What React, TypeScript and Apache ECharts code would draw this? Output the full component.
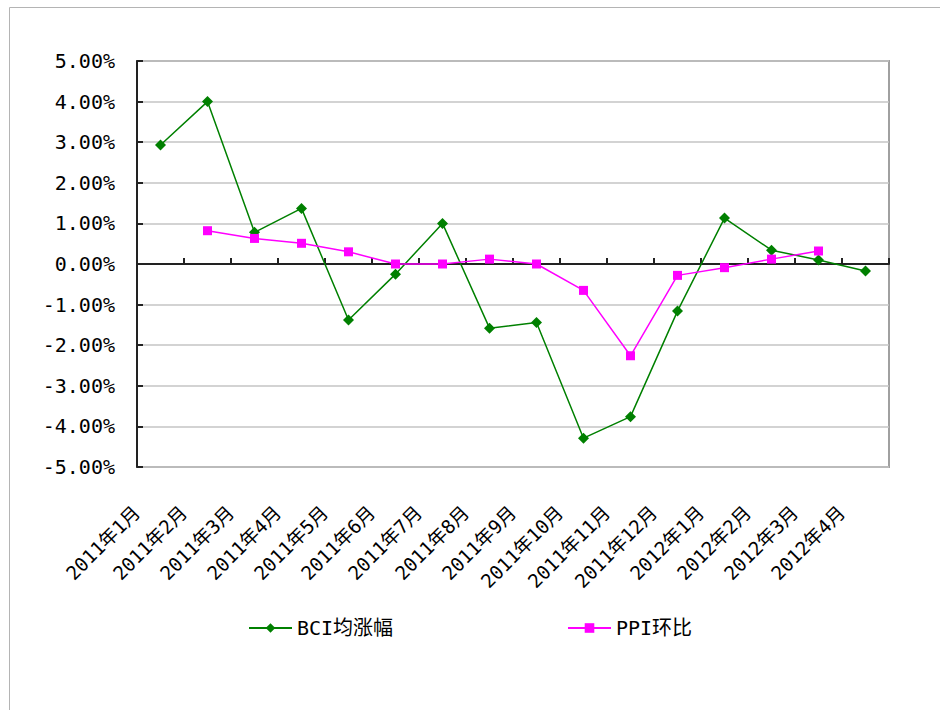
import React, { useEffect, useRef } from "react";
import * as echarts from "echarts";

const categories = [
  "2011年1月", "2011年2月", "2011年3月", "2011年4月", "2011年5月", "2011年6月",
  "2011年7月", "2011年8月", "2011年9月", "2011年10月", "2011年11月", "2011年12月",
  "2012年1月", "2012年2月", "2012年3月", "2012年4月",
];
const bciValues = [2.93, 4.0, 0.78, 1.37, -1.38, -0.25, 1.0, -1.58, -1.44, -4.29, -3.76, -1.16, 1.13, 0.34, 0.1, -0.17];
const ppiValues = [null, 0.82, 0.63, 0.51, 0.3, 0.0, 0.0, 0.12, 0.0, -0.65, -2.26, -0.28, -0.09, 0.12, 0.32, null];
const seriesNames = ["BCI均涨幅", "PPI环比"];
const yMin = -5;
const yMax = 5;
const yInterval = 1;

const FONT = "'DejaVu Sans Mono', 'Noto Sans CJK SC', monospace";

export default function App() {
  const ref = useRef<HTMLDivElement>(null);
  useEffect(() => {
    if (!ref.current) return;
    const chart = echarts.init(ref.current, null, { renderer: "svg" });
    const legendBase = {
      top: 617,
      padding: 0,
      itemWidth: 43,
      itemHeight: 12,
      itemGap: 0,
      textStyle: { fontFamily: FONT, fontSize: 20, color: "#000", lineHeight: 22 },
    };
    chart.setOption({
      animation: false,
      backgroundColor: "#ffffff",
      graphic: [
        {
          type: "rect",
          shape: { x: 9.5, y: 7.5, width: 1000, height: 1000 },
          style: { fill: "none", stroke: "#b4b4b4", lineWidth: 1 },
          silent: true,
        },
      ],
      grid: {
        left: 137,
        right: 51,
        top: 61,
        bottom: 243,
        show: true,
        borderColor: "#a0a0a0",
        borderWidth: 2,
        containLabel: false,
      },
      legend: [
        { ...legendBase, data: [seriesNames[0]], left: 248 },
        { ...legendBase, data: [seriesNames[1]], left: 567 },
      ],
      xAxis: [
        {
          type: "category",
          data: categories,
          position: "bottom",
          boundaryGap: true,
          axisLine: { show: true, onZero: true, lineStyle: { color: "#222", width: 2 } },
          axisTick: { show: true, inside: true, length: 6, interval: 0, lineStyle: { color: "#222", width: 2 } },
          axisLabel: { show: false },
          splitLine: { show: false },
        },
        {
          type: "category",
          data: categories,
          position: "bottom",
          boundaryGap: true,
          axisLine: { show: false, onZero: false },
          axisTick: { show: false },
          axisLabel: {
            show: true,
            interval: 0,
            rotate: 45,
            margin: 18,
            padding: [0, 34, 0, 0],
            fontFamily: FONT,
            fontSize: 19,
            color: "#000",
          },
          splitLine: { show: false },
        },
      ],
      yAxis: {
        type: "value",
        min: yMin,
        max: yMax,
        interval: yInterval,
        axisLine: { show: true, lineStyle: { color: "#222", width: 2 } },
        axisTick: { show: true, inside: true, length: 6, lineStyle: { color: "#222", width: 2 } },
        axisLabel: {
          margin: 22,
          fontFamily: FONT,
          fontSize: 20,
          color: "#000",
          formatter: (v: number) => v.toFixed(2) + "%",
        },
        splitLine: { show: true, lineStyle: { color: "#c4c4c4", width: 1.5 } },
      },
      series: [
        {
          name: seriesNames[0],
          type: "line",
          xAxisIndex: 0,
          data: bciValues,
          symbol: "diamond",
          symbolSize: 11,
          itemStyle: { color: "#008000" },
          lineStyle: { color: "#008000", width: 1.5 },
        },
        {
          name: seriesNames[1],
          type: "line",
          xAxisIndex: 0,
          data: ppiValues,
          symbol: "rect",
          symbolSize: 9,
          itemStyle: { color: "#ff00ff" },
          lineStyle: { color: "#ff00ff", width: 1.5 },
        },
      ],
    });
    return () => chart.dispose();
  }, []);
  return (
    <div
      ref={ref}
      style={{ position: "absolute", left: 0, top: 0, width: 940, height: 710 }}
    />
  );
}
